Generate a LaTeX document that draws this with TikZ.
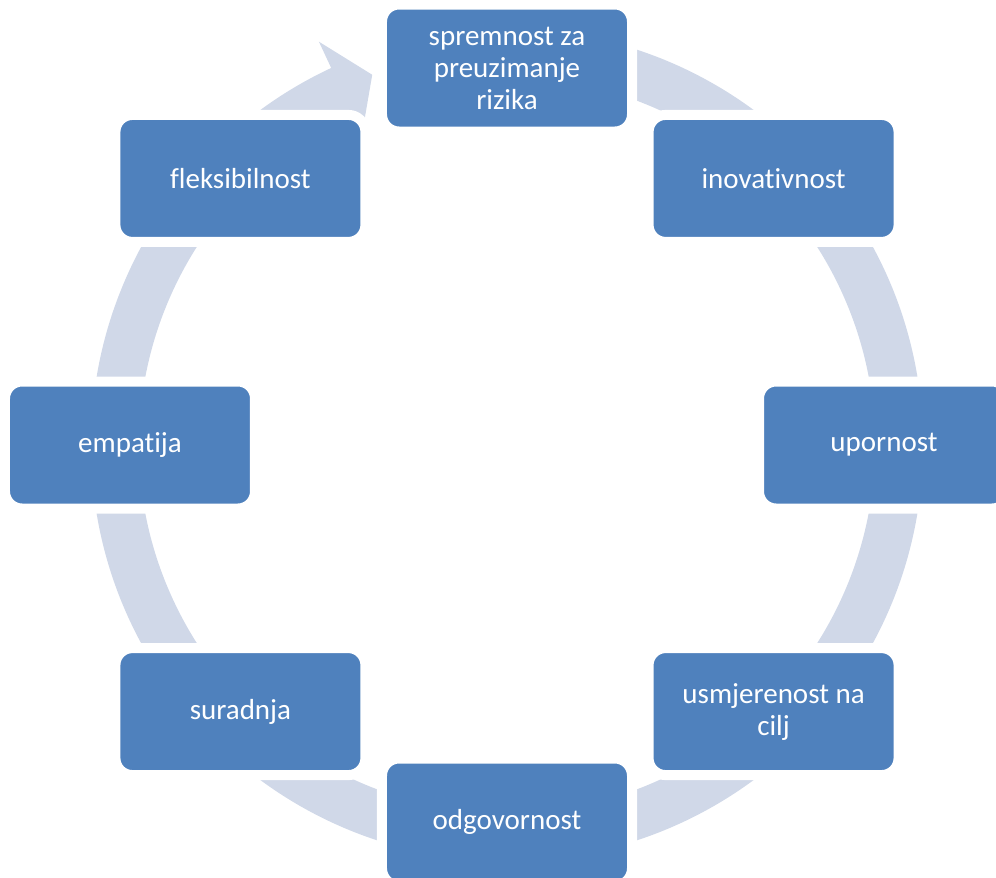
\documentclass[tikz,border=0pt]{standalone}
\usepackage{fontspec}
\setmainfont{Carlito}[Ligatures={NoCommon,NoContextual,NoRare}]
\usetikzlibrary{positioning}
\definecolor{boxblue}{HTML}{4F81BD}
\definecolor{ringgray}{HTML}{D0D8E8}

\begin{document}
\begin{tikzpicture}[
  box/.style={rectangle,rounded corners=0.34cm,fill=boxblue,draw=white,line width=0.2cm,
    minimum width=5cm,minimum height=2.54cm,text=white,align=center,
    font=\fontsize{16.5}{18.2}\selectfont}
]
\useasboundingbox (-10.14,-8.64) rectangle (9.78,8.9);
\fill[ringgray] (90:8.32) arc (90:-245:8.32) -- (115:8.9) -- (110:7.88) -- (115:6.86) -- (115:7.36) arc (-245:90:7.36) -- cycle;

\node[box] (S1) at (90:7.54) {spremnost za\\preuzimanje\\rizika};
\node[box] (S2) at (45:7.54) {inovativnost};
\node[box] (S3) at (0:7.54) {upornost};
\node[box] (S4) at (-45:7.54) {usmjerenost na\\cilj};

\node[box] (S5) at (-90:7.54) {odgovornost};
\node[box] (S6) at (-135:7.54) {suradnja};
\node[box] (S7) at (180:7.54) {empatija};
\node[box] (S8) at (135:7.54) {fleksibilnost};
\end{tikzpicture}
\end{document}
